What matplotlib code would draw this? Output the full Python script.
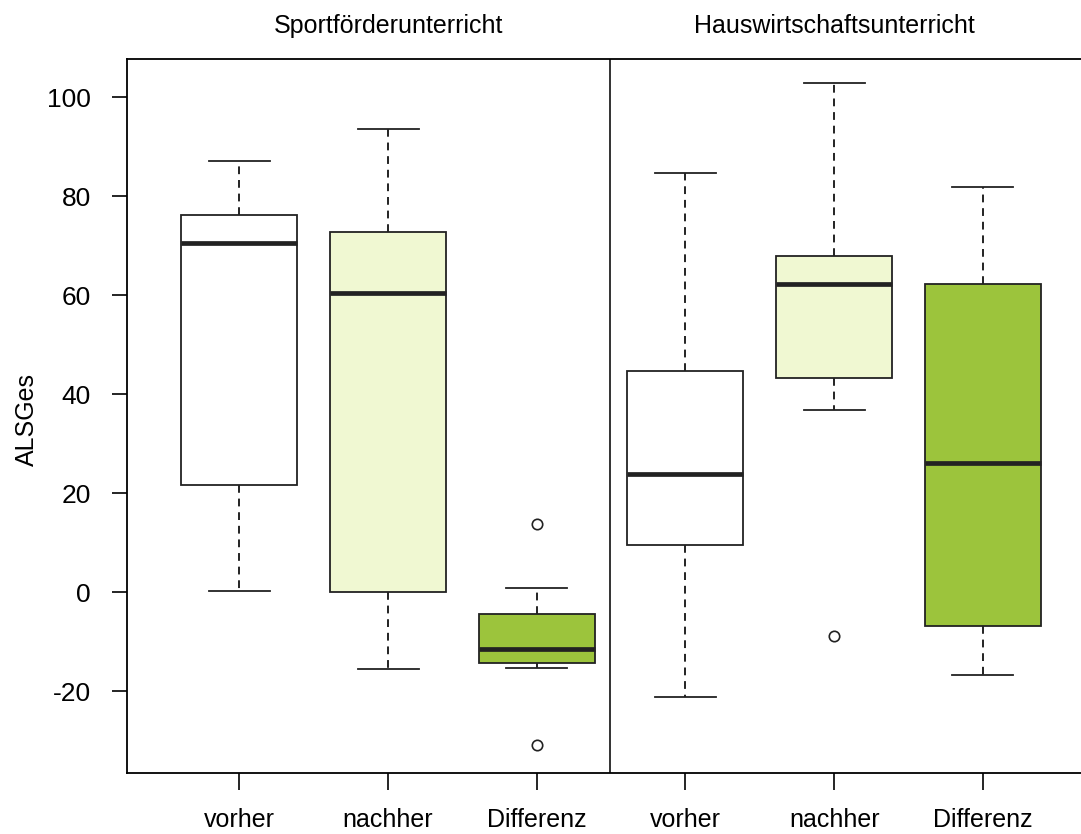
import matplotlib
matplotlib.use("Agg")
import matplotlib.pyplot as plt

plt.rcParams["font.family"] = ["Liberation Sans", "DejaVu Sans"]
plt.rcParams["axes.unicode_minus"] = False

# Werte (ALSGes)
gruppen = ["Sportförderunterricht", "Hauswirtschaftsunterricht"]
labels = ["vorher", "nachher", "Differenz", "vorher", "nachher", "Differenz"]
whislo = [0.3, -15.4, -15.2, -21.2, 36.9, -16.7]
q1 = [21.6, 0.0, -14.3, 9.5, 43.3, -6.9]
med = [70.6, 60.5, -11.5, 23.8, 62.3, 26.2]
q3 = [76.2, 72.8, -4.4, 44.6, 67.9, 62.3]
whishi = [87.2, 93.5, 0.8, 84.7, 102.8, 81.9]
fliers = [[], [], [13.8, -30.8], [], [-8.9], []]
farben = ["white", "#f0f8d2", "#9cc43c", "white", "#f0f8d2", "#9cc43c"]

stats = []
for i in range(len(labels)):
    stats.append(dict(label=labels[i], whislo=whislo[i], q1=q1[i], med=med[i],
                      q3=q3[i], whishi=whishi[i], fliers=fliers[i]))

fig = plt.figure(figsize=(10.81, 8.34), dpi=100)
ax = fig.add_axes([127 / 1081, 1 - 773 / 834, 966 / 1081, (773 - 59) / 834])

pos = list(range(1, len(labels) + 1))
bp = ax.bxp(stats, positions=pos, widths=0.78, patch_artist=True,
            boxprops=dict(linewidth=1.3, edgecolor="#222222"),
            medianprops=dict(color="#222222", linewidth=3.4),
            whiskerprops=dict(linestyle=(0, (4, 3)), linewidth=1.4, color="#222222"),
            capprops=dict(linewidth=1.3, color="#222222"),
            flierprops=dict(marker="o", markersize=7.5, markerfacecolor="none",
                            markeredgecolor="#222222", markeredgewidth=1.2),
            capwidths=0.41)
for box, f in zip(bp["boxes"], farben):
    box.set_facecolor(f)

ax.axvline(3.49, color="#222222", linewidth=1.3)
ax.set_xlim(0.245, 6.74)
ax.set_ylim(-36.5, 107.7)
ax.set_yticks([-20, 0, 20, 40, 60, 80, 100])
ax.tick_params(axis="both", direction="out", width=1.2)
ax.tick_params(axis="y", length=11, pad=15, labelsize=19)
ax.tick_params(axis="x", length=12, pad=13, labelsize=18)
for s in ax.spines.values():
    s.set_linewidth(1.3)

fig.text(27 / 1081, 1 - 420 / 834, "ALSGes", rotation=90, ha="center", va="center",
         fontsize=18)

ax.text(2.0, 1.03, gruppen[0], transform=ax.get_xaxis_transform(),
        ha="center", va="bottom", fontsize=18)
ax.text(5.0, 1.03, gruppen[1], transform=ax.get_xaxis_transform(),
        ha="center", va="bottom", fontsize=18)

fig.savefig("out.png", dpi=100)
